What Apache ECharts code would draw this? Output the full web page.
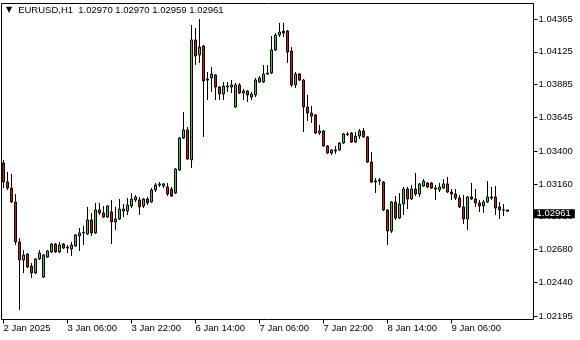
<!DOCTYPE html>
<html><head><meta charset="utf-8">
<script src="https://cdn.jsdelivr.net/npm/echarts@6/dist/echarts.min.js"></script>
<style>html,body{margin:0;padding:0;background:#fff}#c{width:580px;height:340px}</style>
</head><body><div id="c"></div>
<script>
const symbolName = 'EURUSD,H1';
const openP = [1.03313,1.03174,1.03130,1.03028,1.02736,1.02604,1.02648,1.02560,1.02509,1.02612,
1.02480,1.02626,1.02663,1.02721,1.02663,1.02721,1.02692,1.02685,1.02707,1.02780,
1.02802,1.02794,1.02897,1.02802,1.02970,1.02948,1.02918,1.02955,1.02882,1.02904,
1.02962,1.02962,1.02999,1.03043,1.03043,1.02999,1.03050,1.03028,1.03116,1.03152,
1.03145,1.03138,1.03123,1.03094,1.03262,1.03496,1.03554,1.03335,1.04212,1.04102,
1.04168,1.03927,1.03934,1.03956,1.03868,1.03817,1.03868,1.03868,1.03722,1.03883,
1.03824,1.03839,1.03795,1.03810,1.03905,1.03905,1.03963,1.03970,1.04139,1.04248,
1.04277,1.04277,1.04131,1.03883,1.03963,1.03919,1.03722,1.03678,1.03664,1.03532,
1.03547,1.03437,1.03386,1.03408,1.03408,1.03459,1.03525,1.03532,1.03466,1.03510,
1.03547,1.03503,1.03320,1.03181,1.03181,1.03174,1.02970,1.02816,1.03028,1.02911,
1.03013,1.03123,1.03050,1.03123,1.03086,1.03145,1.03167,1.03167,1.03130,1.03116,
1.03130,1.03160,1.03101,1.03086,1.03057,1.02992,1.02904,1.03065,1.03050,1.03021,
1.02999,1.03028,1.03065,1.03065,1.02992,1.02970,1.02970];
const highP = [1.03335,1.03247,1.03233,1.03086,1.02765,1.02677,1.02655,1.02582,1.02619,1.02677,
1.02648,1.02677,1.02728,1.02728,1.02736,1.02728,1.02714,1.02736,1.02794,1.02838,
1.02853,1.02992,1.02948,1.03021,1.03021,1.02999,1.03006,1.03043,1.02992,1.03050,
1.03013,1.03057,1.03094,1.03079,1.03065,1.03057,1.03065,1.03130,1.03167,1.03174,
1.03167,1.03167,1.03138,1.03276,1.03503,1.03686,1.03576,1.04321,1.04299,1.04365,
1.04175,1.03978,1.04014,1.03963,1.03875,1.03905,1.03905,1.03919,1.03897,1.03897,
1.03854,1.03846,1.03832,1.03934,1.03949,1.04029,1.04029,1.04241,1.04263,1.04336,
1.04336,1.04285,1.04160,1.03978,1.03970,1.03927,1.03810,1.03729,1.03671,1.03591,
1.03554,1.03444,1.03415,1.03437,1.03466,1.03532,1.03539,1.03539,1.03539,1.03561,
1.03569,1.03510,1.03393,1.03203,1.03203,1.03181,1.02977,1.03035,1.03072,1.03094,
1.03138,1.03138,1.03152,1.03240,1.03167,1.03196,1.03174,1.03174,1.03152,1.03167,
1.03196,1.03211,1.03123,1.03123,1.03079,1.03079,1.03072,1.03167,1.03123,1.03043,
1.03043,1.03181,1.03138,1.03145,1.03028,1.03013,1.02970];
const lowP = [1.03130,1.03116,1.03021,1.02714,1.02239,1.02509,1.02546,1.02473,1.02502,1.02604,
1.02473,1.02619,1.02655,1.02655,1.02655,1.02685,1.02655,1.02634,1.02699,1.02670,
1.02714,1.02787,1.02780,1.02794,1.02933,1.02911,1.02911,1.02721,1.02823,1.02897,
1.02918,1.02933,1.02984,1.03028,1.02933,1.02984,1.03006,1.03021,1.03101,1.03138,
1.03130,1.03072,1.03065,1.03086,1.03255,1.03488,1.03335,1.03276,1.04029,1.04044,
1.03503,1.03773,1.03832,1.03773,1.03773,1.03773,1.03832,1.03824,1.03715,1.03817,
1.03773,1.03759,1.03773,1.03795,1.03897,1.03897,1.03956,1.03963,1.04131,1.04234,
1.04234,1.04044,1.03868,1.03861,1.03912,1.03539,1.03620,1.03605,1.03525,1.03518,
1.03430,1.03379,1.03371,1.03379,1.03401,1.03452,1.03510,1.03459,1.03459,1.03488,
1.03496,1.03313,1.03167,1.03094,1.03152,1.02962,1.02714,1.02802,1.02897,1.02904,
1.02933,1.02977,1.03043,1.03072,1.03065,1.03138,1.03130,1.03123,1.03043,1.03101,
1.03123,1.03094,1.03043,1.03043,1.02984,1.02867,1.02823,1.03043,1.02992,1.02955,
1.02948,1.03021,1.03043,1.02933,1.02904,1.02926,1.02959];
const closeP = [1.03174,1.03130,1.03028,1.02736,1.02604,1.02641,1.02553,1.02509,1.02612,1.02655,
1.02641,1.02670,1.02721,1.02663,1.02714,1.02692,1.02699,1.02714,1.02787,1.02802,
1.02805,1.02897,1.02802,1.02970,1.02948,1.02918,1.02999,1.02882,1.02904,1.02977,
1.02977,1.03006,1.03050,1.03065,1.02992,1.03050,1.03021,1.03116,1.03152,1.03160,
1.03160,1.03086,1.03072,1.03269,1.03496,1.03554,1.03342,1.04212,1.04095,1.04160,
1.03912,1.03919,1.03963,1.03868,1.03817,1.03875,1.03875,1.03883,1.03883,1.03824,
1.03839,1.03810,1.03817,1.03919,1.03934,1.03963,1.03970,1.04139,1.04248,1.04270,
1.04263,1.04124,1.03883,1.03963,1.03919,1.03722,1.03678,1.03656,1.03532,1.03547,
1.03437,1.03386,1.03408,1.03401,1.03459,1.03525,1.03521,1.03466,1.03510,1.03547,
1.03503,1.03320,1.03174,1.03174,1.03189,1.02970,1.02816,1.03028,1.02911,1.03013,
1.03123,1.03050,1.03123,1.03086,1.03160,1.03181,1.03138,1.03130,1.03123,1.03138,
1.03160,1.03101,1.03086,1.03057,1.02992,1.02904,1.03065,1.03050,1.03021,1.02999,
1.03028,1.03065,1.03057,1.02984,1.02970,1.02968,1.02961];
const yTickValues = [1.04365,1.04125,1.03885,1.03645,1.03400,1.03160,1.02920,1.02680,1.02440,1.02195];
const xTickIndex = [0,16,32,48,64,80,96,112];
const xTickLabels = ['2 Jan 2025','3 Jan 06:00','3 Jan 22:00','6 Jan 14:00','7 Jan 06:00','7 Jan 22:00','8 Jan 14:00','9 Jan 06:00'];
const emptySlots = 6;

// hourly bar times from 2 Jan 2025 14:00, skipping the weekend
const months = ['Jan','Feb','Mar','Apr','May','Jun','Jul','Aug','Sep','Oct','Nov','Dec'];
const categories = [];
let t = Date.UTC(2025,0,2,14);
while (categories.length < openP.length) {
  const d = new Date(t);
  const wd = d.getUTCDay();
  if (wd !== 0 && wd !== 6) {
    categories.push(d.getUTCDate() + ' ' + months[d.getUTCMonth()] + ' ' + String(d.getUTCHours()).padStart(2,'0') + ':00');
  }
  t += 3600000;
}
for (let i = 0; i < emptySlots; i++) categories.push('');

const candles = openP.map((o, i) => [o, closeP[i], lowP[i], highP[i]]);
const last = openP.length - 1;
const FONT = 'Liberation Sans';
const isTick = (idx) => xTickIndex.indexOf(idx) >= 0;

const chart = echarts.init(document.getElementById('c'), null, {renderer: 'canvas'});
chart.setOption({
  animation: false,
  backgroundColor: '#fff',
  title: {
    left: 6, top: 5, padding: 0,
    text: '{t|▼}{s|' + symbolName + '  ' + [openP[last], highP[last], lowP[last], closeP[last]].map(v => v.toFixed(5)).join(' ') + '}',
    textStyle: {
      fontWeight: 'normal',
      rich: {
        t: {fontFamily: 'DejaVu Sans', fontSize: 8, fontWeight: 'normal', color: '#000', padding: [0, 6, 0, 0]},
        s: {fontFamily: FONT, fontSize: 9.5, fontWeight: 'normal', color: '#000'}
      }
    }
  },
  grid: {left: 1.5, top: 3.5, width: 532, height: 316, show: true, borderColor: '#000', borderWidth: 1,
    backgroundColor: '#fff', containLabel: false, outerBoundsMode: 'none'},
  xAxis: {
    type: 'category', data: categories, boundaryGap: true,
    axisLine: {show: false},
    axisTick: {show: true, alignWithLabel: true, length: 4, interval: (i) => isTick(i), lineStyle: {color: '#000'}},
    axisLabel: {
      show: true, interval: (i) => isTick(i), align: 'left', margin: 4, hideOverlap: false,
      formatter: (v, i) => xTickLabels[xTickIndex.indexOf(i)] || '',
      fontFamily: FONT, fontSize: 9.5, color: '#000'
    },
    splitLine: {show: false}
  },
  yAxis: {
    type: 'value', position: 'right', scale: true,
    min: 1.021695, max: 1.044782,
    axisLine: {show: false},
    splitLine: {show: false},
    axisTick: {show: true, length: 4, customValues: yTickValues, lineStyle: {color: '#000'}},
    axisLabel: {show: true, margin: 5, customValues: yTickValues, formatter: v => v.toFixed(5), hideOverlap: false,
      fontFamily: FONT, fontSize: 9.5, color: '#000'}
  },
  series: [{
    type: 'candlestick',
    data: candles,
    barWidth: 2,
    clip: false,
    itemStyle: {color: '#32cd32', color0: '#e01010', borderColor: '#000', borderColor0: '#000', borderWidth: 1},
    markLine: {
      silent: true, symbol: ['none', 'none'],
      lineStyle: {color: 'transparent'},
      data: [{yAxis: closeP[last]}],
      label: {show: true, position: 'end', distance: 0, offset: [0, 8], formatter: closeP[last].toFixed(5),
        backgroundColor: '#000', color: '#fff', fontFamily: FONT, fontSize: 9.5, lineHeight: 9, padding: [0, 4, 0, 3]}
    },
    z: 5
  }]
});
</script>
</body></html>
